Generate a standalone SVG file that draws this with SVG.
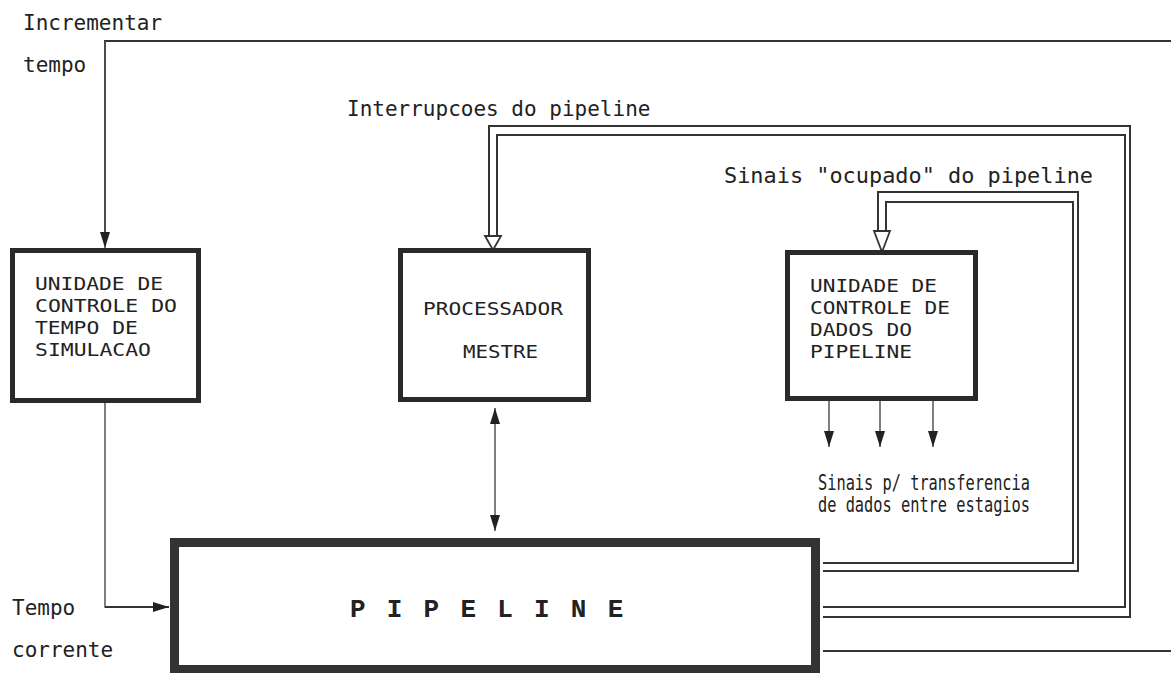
<svg xmlns="http://www.w3.org/2000/svg" width="1171" height="673" viewBox="0 0 1171 673">
<style>
.t{font-family:"DejaVu Sans Mono","Liberation Mono",monospace;font-size:21px;fill:#222}
.b{font-family:"DejaVu Sans Mono","Liberation Mono",monospace;font-size:18px;fill:#222}
.box{fill:#fff;stroke:#2a2a2a;stroke-width:5}
.ln{fill:none;stroke:#333;stroke-width:2}
.th{fill:none;stroke:#555;stroke-width:1.5}
.hol{fill:#fff;stroke:#333;stroke-width:1.8}
</style>
<defs>
<marker id="ah2" viewBox="0 0 16 12" refX="16" refY="6" markerWidth="16" markerHeight="12" markerUnits="userSpaceOnUse" orient="auto-start-reverse">
<path d="M0,1 L16,6 L0,11 z" fill="#222"/>
</marker>
</defs>
<rect width="1171" height="673" fill="#fff"/>

<g id="labels">
<text class="t" x="23" y="30">Incrementar</text>
<text class="t" x="23" y="72">tempo</text>
<text class="t" x="347" y="116">Interrupcoes do pipeline</text>
<text class="t" x="724" y="183" textLength="369" lengthAdjust="spacingAndGlyphs">Sinais "ocupado" do pipeline</text>
<text class="t" x="818" y="490" textLength="212" lengthAdjust="spacingAndGlyphs">Sinais p/ transferencia</text>
<text class="t" x="818" y="512" textLength="212" lengthAdjust="spacingAndGlyphs">de dados entre estagios</text>
<text class="t" x="12" y="615">Tempo</text>
<text class="t" x="12" y="657">corrente</text>
</g>

<g id="connectors">
<polyline class="ln" points="1171,41 105,41 105,236"/>
<line class="th" x1="105" y1="41" x2="105" y2="248" marker-end="url(#ah2)"/>
<line class="ln" x1="823" y1="651" x2="1171" y2="651"/>
<polyline class="th" points="105,402 105,607 150,607"/>
<line class="ln" x1="105" y1="607" x2="169" y2="607" marker-end="url(#ah2)"/>
<polyline class="ln" points="489,237 489,126 1130,126 1130,617 823,617"/>
<polyline class="ln" points="497,237 497,135 1125,135 1125,607 823,607"/>
<polygon class="hol" points="485,236 501,236 493,250"/>
<polyline class="ln" points="878,232 878,192 1078,192 1078,571 823,571"/>
<polyline class="ln" points="886,232 886,202 1073,202 1073,563 823,563"/>
<polygon class="hol" points="874,231 890,231 882,252"/>
<line class="th" x1="495" y1="408" x2="495" y2="531" marker-start="url(#ah2)" marker-end="url(#ah2)"/>
<line class="th" x1="829" y1="401" x2="829" y2="447" marker-end="url(#ah2)"/>
<line class="th" x1="880" y1="401" x2="880" y2="447" marker-end="url(#ah2)"/>
<line class="th" x1="933" y1="401" x2="933" y2="447" marker-end="url(#ah2)"/>
</g>

<g id="n-tempo">
<rect class="box" x="12.5" y="250.5" width="186" height="150"/>
<text class="b" x="35" y="290" textLength="128" lengthAdjust="spacingAndGlyphs">UNIDADE DE</text>
<text class="b" x="35" y="312" textLength="142" lengthAdjust="spacingAndGlyphs">CONTROLE DO</text>
<text class="b" x="35" y="334" textLength="103" lengthAdjust="spacingAndGlyphs">TEMPO DE</text>
<text class="b" x="35" y="356" textLength="116" lengthAdjust="spacingAndGlyphs">SIMULACAO</text>
</g>

<g id="n-processador">
<rect class="box" x="400.5" y="250.5" width="188" height="149"/>
<text class="b" x="423" y="315" textLength="140" lengthAdjust="spacingAndGlyphs">PROCESSADOR</text>
<text class="b" x="463" y="358" textLength="75" lengthAdjust="spacingAndGlyphs">MESTRE</text>
</g>

<g id="n-dados">
<rect class="box" x="787.5" y="252.5" width="188" height="146"/>
<text class="b" x="810" y="292" textLength="127" lengthAdjust="spacingAndGlyphs">UNIDADE DE</text>
<text class="b" x="810" y="314" textLength="140" lengthAdjust="spacingAndGlyphs">CONTROLE DE</text>
<text class="b" x="810" y="336" textLength="102" lengthAdjust="spacingAndGlyphs">DADOS DO</text>
<text class="b" x="810" y="358" textLength="102" lengthAdjust="spacingAndGlyphs">PIPELINE</text>
</g>

<g id="n-pipeline">
<rect x="174.5" y="542.5" width="641" height="127" fill="#fff" stroke="#333" stroke-width="9"/>
<text x="350" y="617" font-family="'Liberation Mono','DejaVu Sans Mono',monospace" font-size="26" font-weight="bold" fill="#222" letter-spacing="2.8" xml:space="preserve">P I P E L I N E</text>
</g>
</svg>
